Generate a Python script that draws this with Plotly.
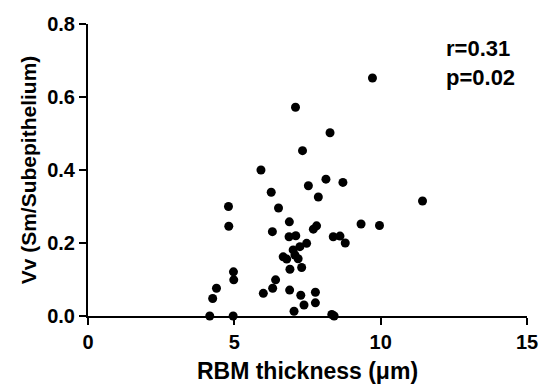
import plotly.graph_objects as go

rbm_thickness = [9.72, 7.09, 8.27, 7.33, 5.91, 6.26, 7.53, 8.13, 8.71, 7.87,
                 11.43, 4.80, 6.51, 4.81, 6.88, 6.30, 6.87, 7.10, 7.70, 7.81,
                 8.38, 8.61, 8.79, 9.33, 9.96, 7.24, 7.47, 7.01, 7.07, 6.67,
                 6.79, 7.18, 6.90, 7.30, 4.97, 4.98, 4.39, 4.26, 6.41, 6.31,
                 5.99, 6.89, 7.27, 7.77, 7.38, 7.77, 7.04, 4.16, 4.96, 8.33, 8.41]
vv_sm = [0.652, 0.572, 0.502, 0.453, 0.400, 0.339, 0.357, 0.375, 0.366, 0.326,
         0.315, 0.300, 0.296, 0.246, 0.258, 0.231, 0.217, 0.220, 0.238, 0.247,
         0.217, 0.219, 0.200, 0.252, 0.248, 0.190, 0.199, 0.181, 0.167, 0.162,
         0.156, 0.157, 0.128, 0.133, 0.121, 0.099, 0.076, 0.048, 0.099, 0.076,
         0.062, 0.071, 0.057, 0.065, 0.030, 0.036, 0.013, 0.000, 0.000, 0.004, 0.000]

x_ticks = [0, 5, 10, 15]
y_ticks = [0.0, 0.2, 0.4, 0.6, 0.8]
y_tick_labels = ["0.0", "0.2", "0.4", "0.6", "0.8"]
stats_text = "r=0.31<br>p=0.02"

FONT = "Liberation Sans, Arial, sans-serif"

fig = go.Figure(go.Scatter(
    x=rbm_thickness, y=vv_sm, mode="markers",
    marker=dict(color="black", size=9),
    cliponaxis=False, showlegend=False,
))

axis_common = dict(
    showline=True, linecolor="black", linewidth=2,
    ticks="outside", ticklen=7, tickwidth=2, tickcolor="black",
    showgrid=False, zeroline=False,
    tickfont=dict(family=FONT, size=20, color="black", weight="bold"),
)

fig.update_xaxes(range=[0, 15], tickvals=x_ticks, **axis_common,
                 title=dict(text="RBM thickness (μm)", standoff=11,
                            font=dict(family=FONT, size=23, color="black", weight="bold")))
fig.update_yaxes(range=[0, 0.8], tickvals=y_ticks, ticktext=y_tick_labels, **axis_common,
                 title=dict(text="Vv (Sm/Subepithelium)", standoff=5,
                            font=dict(family=FONT, size=21, color="black", weight="bold")))

fig.add_annotation(
    x=0.81, y=0.965, xref="paper", yref="paper", xanchor="left", yanchor="top",
    text=stats_text, showarrow=False, align="left",
    font=dict(family=FONT, size=22, color="black", weight="bold"),
)

fig.update_layout(
    width=540, height=386,
    margin=dict(l=88, r=13, t=24, b=70, autoexpand=False),
    plot_bgcolor="white", paper_bgcolor="white",
)

fig.write_html("out.html", config={"displayModeBar": False},
               post_script="document.body.style.margin='0';")
